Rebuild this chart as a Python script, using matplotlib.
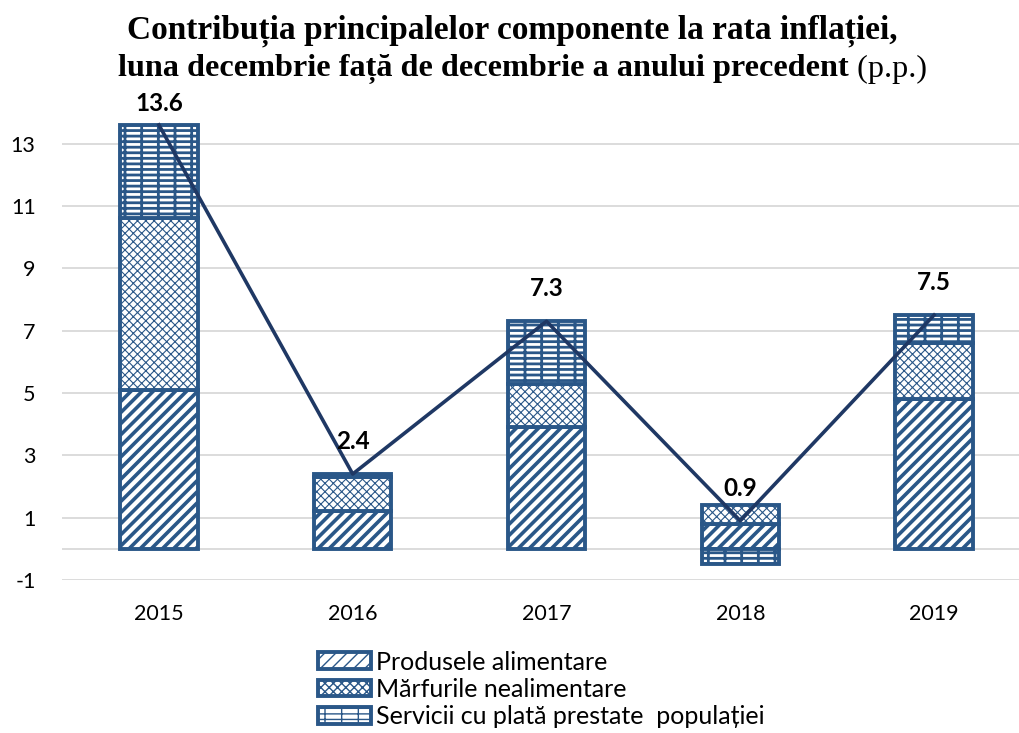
import matplotlib
matplotlib.use('Agg')
import matplotlib.pyplot as plt
import numpy as np

# Data (p.p.)
years = ['2015', '2016', '2017', '2018', '2019']
food = [5.1, 1.2, 3.9, 0.8, 4.8]
nonfood = [5.5, 1.1, 1.4, 0.6, 1.8]
services = [3.0, 0.1, 2.0, -0.5, 0.9]
total = [13.6, 2.4, 7.3, 0.9, 7.5]
series_names = ['Produsele alimentare', 'Mărfurile nealimentare',
                'Servicii cu plată prestate  populației']
y_ticks = [-1, 1, 3, 5, 7, 9, 11, 13]

EDGE = '#2A5788'
LINE = '#1F3864'
GRID = '#D9D9D9'
SANS = 'Lato'
SERIF = 'Liberation Serif'

W, H = 1019, 733
fig = plt.figure(figsize=(W / 100, H / 100), dpi=100)
ax = fig.add_axes([62 / W, (H - 580) / H, (1031 - 62) / W, (580 - 100) / H])

x = np.arange(len(years))
width = 0.4
pos_bottom = np.zeros(len(years))
neg_bottom = np.zeros(len(years))

# hatch pattern and hatch line width for each component
styles = [('///', 2.6), ('xxxx', 0.8), ('---|', 2.0)]
handles = []
for vals, (hatch, hlw) in zip([food, nonfood, services], styles):
    vals = np.array(vals)
    bottom = np.where(vals >= 0, pos_bottom, neg_bottom)
    bars = ax.bar(x, vals, width, bottom=bottom, color='white', edgecolor=EDGE,
                  linewidth=2.8, hatch=hatch, zorder=2)
    for b in bars:
        if hasattr(b, 'set_hatch_linewidth'):
            b.set_hatch_linewidth(hlw)
    handles.append(bars)
    pos_bottom += np.where(vals >= 0, vals, 0)
    neg_bottom += np.where(vals < 0, vals, 0)

ax.plot(x, total, color=LINE, linewidth=2.6, zorder=3)
for xi, v in zip(x, total):
    ax.text(xi, min(v + 1.05, 14.3), f'{v:.1f}', ha='center', va='center',
            fontsize=17.5, fontweight='bold', fontfamily=SANS, zorder=4)

ax.set_xlim(-0.5, 4.5)
ax.set_ylim(-1, 14.4)
ax.set_yticks(y_ticks)
ax.set_yticklabels([str(t) for t in y_ticks])
ax.set_xticks(x)
ax.set_xticklabels(years)
ax.grid(axis='y', color=GRID, linewidth=1.3, zorder=0)
ax.axhline(0, color=GRID, linewidth=1.3, zorder=0)
ax.set_axisbelow(True)
for s in ax.spines.values():
    s.set_visible(False)
ax.tick_params(length=0, labelsize=15.5)
ax.tick_params(axis='y', pad=19)
ax.tick_params(axis='x', pad=17)
for lab in ax.get_xticklabels() + ax.get_yticklabels():
    lab.set_fontfamily(SANS)

# title, second line mixes bold and regular
fig.text(512 / W, 1 - 31 / H, 'Contribuția principalelor componente la rata inflației,',
         ha='center', va='center', fontfamily=SERIF, fontweight='bold', fontsize=24)
t2 = fig.text(118 / W, 1 - 69 / H, 'luna decembrie față de decembrie a anului precedent',
              ha='left', va='center', fontfamily=SERIF, fontweight='bold', fontsize=23.2)
ax.annotate(' (p.p.)', xy=(1, 0.5), xycoords=t2, ha='left', va='center',
            fontfamily=SERIF, fontsize=23.2, annotation_clip=False)

fig.legend(handles, series_names, loc='upper left',
           bbox_to_anchor=(305 / W, 1 - 638 / H), frameon=False,
           prop={'family': SANS, 'size': 18}, handlelength=2.15, handleheight=0.64,
           handletextpad=0.2, labelspacing=0.18, borderpad=0)

fig.savefig('out.png', dpi=100)
